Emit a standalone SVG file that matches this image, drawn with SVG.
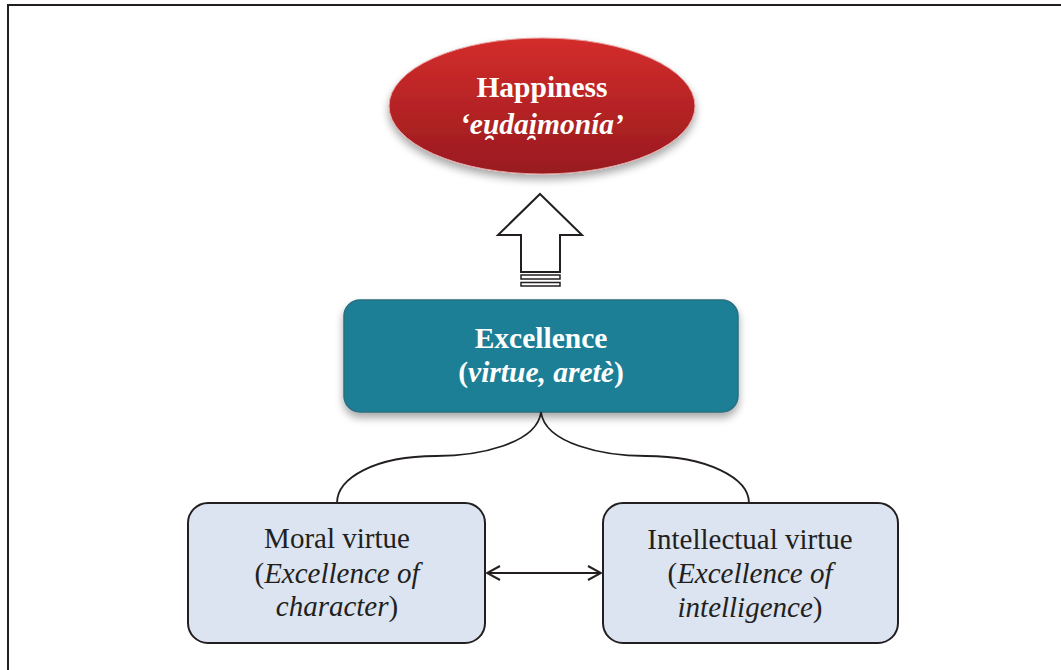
<svg xmlns="http://www.w3.org/2000/svg" width="1061" height="670" viewBox="0 0 1061 670">
  <defs>
    <linearGradient id="redGrad" x1="0" y1="0" x2="0" y2="1">
      <stop offset="0" stop-color="#d42d2b"/>
      <stop offset="1" stop-color="#981a1f"/>
    </linearGradient>
    <filter id="softShadow" x="-20%" y="-20%" width="140%" height="150%">
      <feGaussianBlur in="SourceAlpha" stdDeviation="4"/>
      <feOffset dx="0" dy="5" result="blur"/>
      <feComponentTransfer><feFuncA type="linear" slope="0.35"/></feComponentTransfer>
      <feMerge><feMergeNode/><feMergeNode in="SourceGraphic"/></feMerge>
    </filter>
    <marker id="openHead" viewBox="0 0 16 16" refX="15" refY="8" markerWidth="16" markerHeight="16" markerUnits="userSpaceOnUse" orient="auto-start-reverse">
      <path d="M2,1 L15,8 L2,15" fill="none" stroke="#231f20" stroke-width="2"/>
    </marker>
  </defs>
  <style>
    .frame { fill: none; stroke: #231f20; stroke-width: 2; }
    .title { font-family: "Liberation Serif", "Times New Roman", serif; font-weight: bold; font-size: 29.5px; fill: #ffffff; text-anchor: middle; }
    .label { font-family: "Liberation Serif", "Times New Roman", serif; font-size: 29px; fill: #231f20; text-anchor: middle; }
    .it { font-style: italic; }
    .virtue { fill: #dbe4f0; stroke: #231f20; stroke-width: 2; }
    .link { fill: none; stroke: #231f20; stroke-width: 1.8; }
  </style>

  <rect width="1061" height="670" fill="#ffffff"/>
  <!-- page frame (open on the right and bottom) -->
  <path class="frame" d="M8,670 L8,5 L1061,5"/>

  <g id="happiness">
    <ellipse cx="542" cy="106" rx="153" ry="68" fill="url(#redGrad)" stroke="#e8a3a3" stroke-width="1" filter="url(#softShadow)"/>
    <text class="title" x="542" y="97">Happiness</text>
    <text class="title it" x="542" y="134">‘eu̯dai̯monía’</text>
  </g>

  <g id="excellence">
    <rect x="344" y="300" width="394" height="112" rx="16" fill="#1a7f96" stroke="#2a6f80" stroke-width="1.5" filter="url(#softShadow)"/>
    <text class="title" x="541" y="348">Excellence</text>
    <text class="title" x="541" y="382">(<tspan class="it">virtue, aretè</tspan>)</text>
  </g>

  <g id="moral-virtue">
    <rect class="virtue" x="188" y="503" width="297" height="140" rx="20"/>
    <text class="label" x="337" y="548">Moral virtue</text>
    <text class="label" x="337" y="583">(<tspan class="it">Excellence of</tspan></text>
    <text class="label" x="337" y="616"><tspan class="it">character</tspan>)</text>
  </g>

  <g id="intellectual-virtue">
    <rect class="virtue" x="603" y="503" width="295" height="140" rx="20"/>
    <text class="label" x="750" y="549">Intellectual virtue</text>
    <text class="label" x="750" y="583">(<tspan class="it">Excellence of</tspan></text>
    <text class="label" x="750" y="617"><tspan class="it">intelligence</tspan>)</text>
  </g>

  <g id="connectors">
    <!-- block arrow from excellence to happiness -->
    <path d="M540,194 L582,235 L560,235 L560,272 L521,272 L521,235 L498,235 Z" fill="#ffffff" stroke="#231f20" stroke-width="2" stroke-linejoin="miter"/>
    <rect x="521" y="275" width="39" height="4" fill="#ffffff" stroke="#231f20" stroke-width="1.5"/>
    <rect x="521" y="282.5" width="39" height="3.5" fill="#ffffff" stroke="#231f20" stroke-width="1.5"/>
    <!-- brace splitting excellence into the two virtues -->
    <path class="link" d="M541,412 C537,444 478,456 436,456 C375,456 337,478 337,503"/>
    <path class="link" d="M541,412 C545,444 604,456 646,456 C707,456 749,478 749,503"/>
    <!-- mutual relation between the virtues -->
    <line class="link" x1="487" y1="573" x2="601" y2="573" marker-start="url(#openHead)" marker-end="url(#openHead)"/>
  </g>
</svg>
